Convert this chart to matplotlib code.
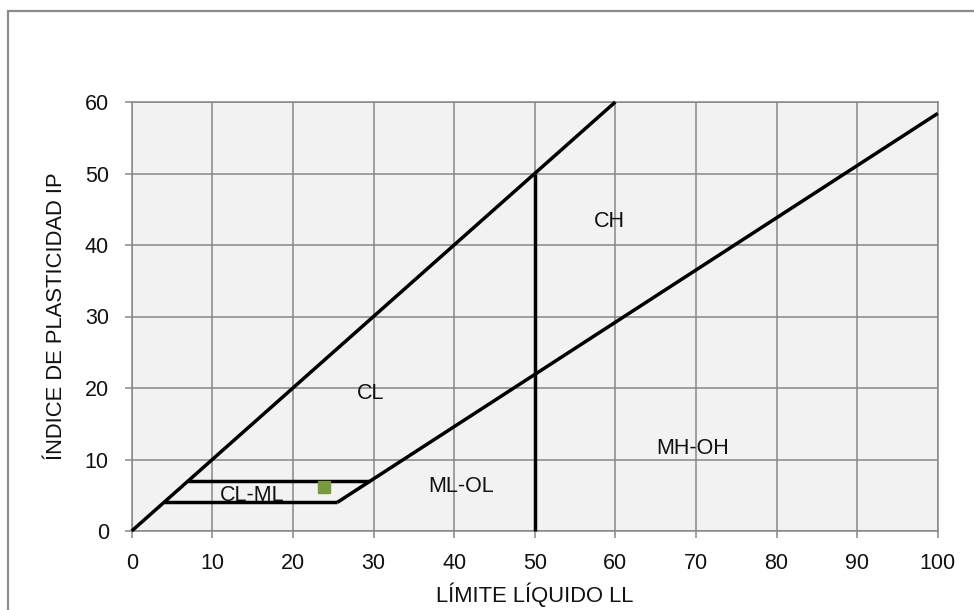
import matplotlib

matplotlib.use("Agg")
import matplotlib.pyplot as plt
from matplotlib.patches import Rectangle

plt.rcParams["font.family"] = ["Liberation Sans", "DejaVu Sans"]

# boundary lines of the plasticity chart (LL, IP)
line_45_x = [0, 60]
line_45_y = [0, 60]
a_line_x = [25.5, 100]
a_line_y = [4, 58.4]
upper_h_x = [7, 29.6]
upper_h_y = [7, 7]
lower_h_x = [4, 25.5]
lower_h_y = [4, 4]
vert_x = [50, 50]
vert_y = [0, 50]

# sample point
sample_ll = [23.8]
sample_ip = [6.2]

# zone labels
zone_names = ["CH", "CL", "MH-OH", "ML-OL", "CL-ML"]
zone_x = [59.3, 29.6, 69.6, 40.9, 15.0]
zone_y = [43.3, 19.3, 11.6, 6.2, 4.9]

x_ticks = list(range(0, 101, 10))
y_ticks = list(range(0, 61, 10))

GRID = "#878787"
BG = "#f2f2f2"
INK = "#111111"

fig = plt.figure(figsize=(9.74, 6.10), dpi=100, facecolor="white")
ax = fig.add_axes([131.7 / 974, 1 - 531 / 610, 806 / 974, 429 / 610])
ax.set_facecolor(BG)

# outer chart frame (cropped at the right and bottom)
fig.patches.append(Rectangle((8 / 974, -0.1), 1.2, 1.1 - 11 / 610,
                             transform=fig.transFigure, fill=False,
                             edgecolor="#8c8c8c", lw=1.6, zorder=0))

ax.set_xlim(0, 100)
ax.set_ylim(0, 60)
ax.set_xticks(x_ticks)
ax.set_yticks(y_ticks)
ax.grid(True, color=GRID, lw=1.1, zorder=1)
ax.set_axisbelow(True)
for sp in ax.spines.values():
    sp.set_color(GRID)
    sp.set_linewidth(1.1)
ax.tick_params(colors=GRID, length=5, width=1.1, labelsize=15.5,
               labelcolor=INK)
ax.tick_params(axis="x", pad=11)
ax.tick_params(axis="y", pad=11.5)

for name, x, y in zip(zone_names, zone_x, zone_y):
    ax.text(x, y, name, ha="center", va="center", fontsize=15.5,
            color=INK, zorder=2)

lw = 2.5
for xs, ys in [(line_45_x, line_45_y), (a_line_x, a_line_y),
               (upper_h_x, upper_h_y), (lower_h_x, lower_h_y),
               (vert_x, vert_y)]:
    ax.plot(xs, ys, color="black", lw=lw, solid_capstyle="butt",
            zorder=3, clip_on=False)

ax.plot(sample_ll, sample_ip, ls="none", marker="s", ms=8.4,
        color="#789a3a", mec="#789a3a", zorder=4)

ax.set_xlabel("LÍMITE LÍQUIDO LL", fontsize=15.8, color=INK, va="center")
ax.set_ylabel("ÍNDICE DE PLASTICIDAD IP", fontsize=15.8, color=INK,
              va="center")
ax.xaxis.set_label_coords(0.5, (531 - 595) / 429)
ax.yaxis.set_label_coords((57 - 131.7) / 806, 0.5)

fig.savefig("out.png", dpi=100, facecolor="white")
